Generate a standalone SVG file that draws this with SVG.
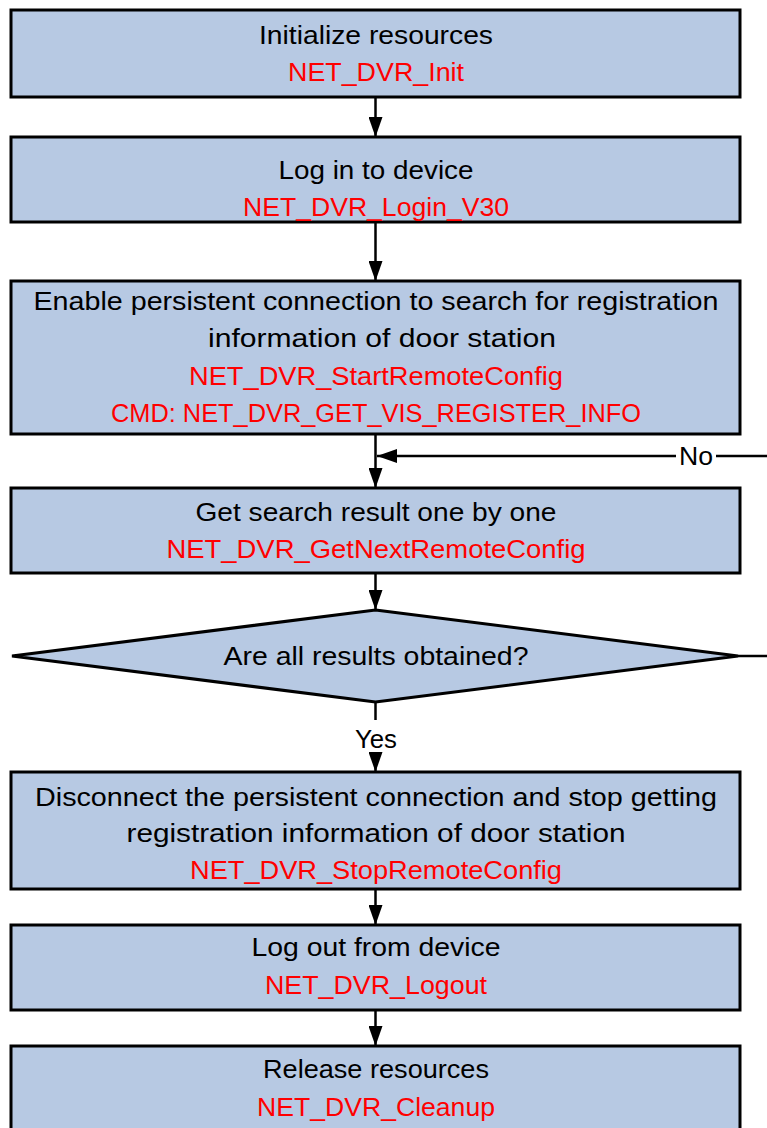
<svg xmlns="http://www.w3.org/2000/svg" width="767" height="1128" viewBox="0 0 767 1128">
<defs>
<marker id="ah" viewBox="0 0 20 14" refX="20" refY="7" markerWidth="20" markerHeight="14" markerUnits="userSpaceOnUse" orient="auto">
<path d="M0,0 L20,7 L0,14 Z" fill="#000"/>
</marker>
</defs>
<style>
.box{fill:#b7c9e3;stroke:#000;stroke-width:3}
.t{font-family:"Liberation Sans",Arial,sans-serif;font-size:26px;text-anchor:middle;fill:#000}
.r{fill:#ff0000}
.c{stroke:#000;stroke-width:2.5;fill:none}
.lbl{font-family:"Liberation Sans",Arial,sans-serif;font-size:26px;text-anchor:middle;fill:#000}
</style>
<rect width="767" height="1128" fill="#fff"/>
<g id="connectors">
<line class="c" x1="375.5" y1="97" x2="375.5" y2="137" marker-end="url(#ah)"/>
<line class="c" x1="375.5" y1="222" x2="375.5" y2="281" marker-end="url(#ah)"/>
<line class="c" x1="375.5" y1="434" x2="375.5" y2="488" marker-end="url(#ah)"/>
<line class="c" x1="375.5" y1="573" x2="375.5" y2="610" marker-end="url(#ah)"/>
<line class="c" x1="375.5" y1="702" x2="375.5" y2="720"/>
<line class="c" x1="375.5" y1="756" x2="375.5" y2="772" marker-end="url(#ah)"/>
<line class="c" x1="375.5" y1="889" x2="375.5" y2="925" marker-end="url(#ah)"/>
<line class="c" x1="375.5" y1="1010" x2="375.5" y2="1046" marker-end="url(#ah)"/>
<polyline class="c" points="738,656 767,656"/>
<line class="c" x1="767" y1="456" x2="716" y2="456"/>
<line class="c" x1="676" y1="456" x2="377" y2="456" marker-end="url(#ah)"/>
<text class="lbl" x="696" y="465" textLength="34" lengthAdjust="spacingAndGlyphs">No</text>
<text class="lbl" x="376" y="748" textLength="42" lengthAdjust="spacingAndGlyphs">Yes</text>
</g>
<g id="n1">
<rect class="box" x="11" y="10" width="729" height="87"/>
<text class="t" x="376" y="44" textLength="234" lengthAdjust="spacingAndGlyphs">Initialize resources</text>
<text class="t r" x="376" y="81" textLength="176" lengthAdjust="spacingAndGlyphs">NET_DVR_Init</text>
</g>
<g id="n2">
<rect class="box" x="11" y="137" width="729" height="85"/>
<text class="t" x="376" y="179" textLength="195" lengthAdjust="spacingAndGlyphs">Log in to device</text>
<text class="t r" x="376" y="216" textLength="266" lengthAdjust="spacingAndGlyphs">NET_DVR_Login_V30</text>
</g>
<g id="n3">
<rect class="box" x="11" y="281" width="729" height="153"/>
<text class="t" x="376" y="310" textLength="685" lengthAdjust="spacingAndGlyphs">Enable persistent connection to search for registration</text>
<text class="t" x="382" y="347" textLength="348" lengthAdjust="spacingAndGlyphs">information of door station</text>
<text class="t r" x="376" y="385" textLength="374" lengthAdjust="spacingAndGlyphs">NET_DVR_StartRemoteConfig</text>
<text class="t r" x="376" y="422" textLength="530" lengthAdjust="spacingAndGlyphs">CMD: NET_DVR_GET_VIS_REGISTER_INFO</text>
</g>
<g id="n4">
<rect class="box" x="11" y="488" width="729" height="85"/>
<text class="t" x="376" y="521" textLength="361" lengthAdjust="spacingAndGlyphs">Get search result one by one</text>
<text class="t r" x="376" y="558" textLength="419" lengthAdjust="spacingAndGlyphs">NET_DVR_GetNextRemoteConfig</text>
</g>
<g id="n5">
<polygon class="box" points="375.5,610 738,656 375.5,702 12,656"/>
<text class="t" x="376" y="665" textLength="305" lengthAdjust="spacingAndGlyphs">Are all results obtained?</text>
</g>
<g id="n6">
<rect class="box" x="11" y="772" width="729" height="117"/>
<text class="t" x="376" y="806" textLength="682" lengthAdjust="spacingAndGlyphs">Disconnect the persistent connection and stop getting</text>
<text class="t" x="376" y="842" textLength="499" lengthAdjust="spacingAndGlyphs">registration information of door station</text>
<text class="t r" x="376" y="879" textLength="372" lengthAdjust="spacingAndGlyphs">NET_DVR_StopRemoteConfig</text>
</g>
<g id="n7">
<rect class="box" x="11" y="925" width="729" height="85"/>
<text class="t" x="376" y="956" textLength="249" lengthAdjust="spacingAndGlyphs">Log out from device</text>
<text class="t r" x="376" y="994" textLength="222" lengthAdjust="spacingAndGlyphs">NET_DVR_Logout</text>
</g>
<g id="n8">
<rect class="box" x="11" y="1046" width="729" height="90"/>
<text class="t" x="376" y="1078" textLength="226" lengthAdjust="spacingAndGlyphs">Release resources</text>
<text class="t r" x="376" y="1116" textLength="238" lengthAdjust="spacingAndGlyphs">NET_DVR_Cleanup</text>
</g>
</svg>
